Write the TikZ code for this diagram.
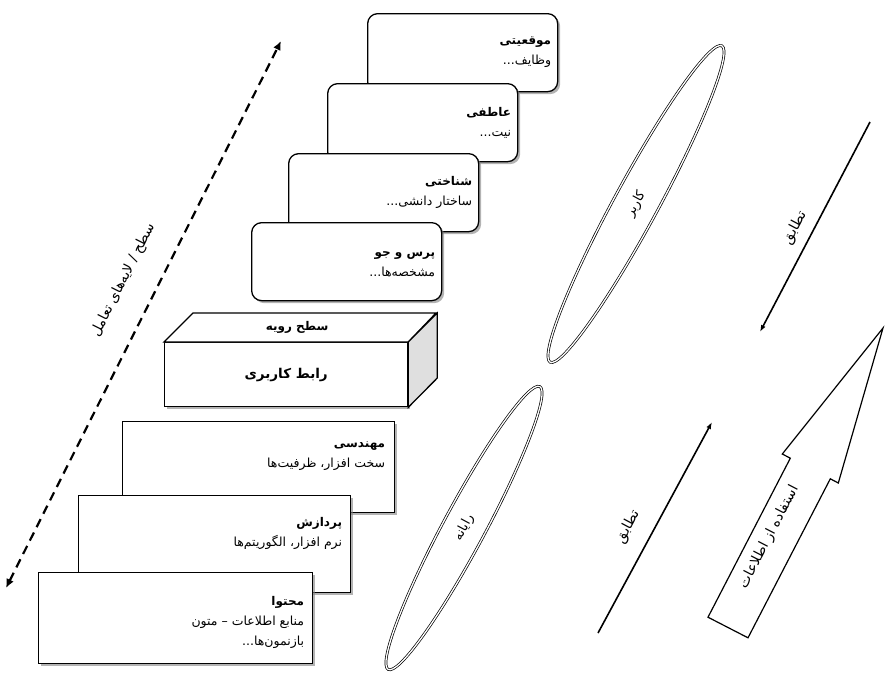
\documentclass[tikz,border=0pt]{standalone}
\usepackage{fontspec}
\usepackage{tikz}
\usetikzlibrary{arrows.meta,shapes.geometric,shadows}
\TeXXeTstate=1
\newfontfamily\fa[Script=Arabic]{DejaVu Sans}
\newcommand{\rtl}[1]{\beginR #1\endR}
\newcommand{\ttl}[1]{\textbf{\fontsize{12}{20}\selectfont\rtl{#1}}}

\begin{document}
\begin{tikzpicture}[x=1pt,y=-1pt,
	every node/.style={font=\fa\fontsize{12.5}{20}\selectfont},
	shadowed/.style={drop shadow={shadow xshift=2.5pt,shadow yshift=-2.5pt,opacity=.6}},
	roundbox/.style={draw,line width=1.3pt,rounded corners=10pt,fill=white,shadowed,
		minimum width=190pt,minimum height=78pt,anchor=north west},
	flatbox/.style={draw,line width=1.3pt,fill=white,shadowed,minimum width=272pt,anchor=north west},
	boxtext/.style={anchor=east,align=right,inner sep=0pt},
	ring/.style={ellipse,draw,double,double distance=1.3pt,line width=.7pt,inner sep=0pt,
		font=\fa\fontsize{13}{15}\selectfont},
	slanted/.style={font=\fa\fontsize{14}{16}\selectfont},
	match/.style={line width=1.6pt,-{Latex[length=7pt,width=5pt]}},
]
		\useasboundingbox (0,0) rectangle (885,675);
		% upper boxes
		\node[roundbox] (mowq) at (367,13) {};
		\node[boxtext] (mowq-t) at ([xshift=-7pt]mowq.east) {\ttl{موقعیتی}\\\rtl{وظایف...}};
		\node[roundbox] (atef) at (327,83) {};
		\node[boxtext] (atef-t) at ([xshift=-7pt]atef.east) {\ttl{عاطفی}\\\rtl{نیت...}};
		\node[roundbox] (shenakht) at (288,153) {};
		\node[boxtext] (shenakht-t) at ([xshift=-7pt]shenakht.east) {\ttl{شناختی}\\\rtl{ساختار دانشی...}};
		\node[roundbox] (porsesh) at (251,222) {};
		\node[boxtext] (porsesh-t) at ([xshift=-7pt,yshift=-3pt]porsesh.east) {\ttl{پرس و جو}\\\rtl{مشخصه‌ها...}};
		% surface level
		\node[draw,line width=1.3pt,fill=white,shadowed,minimum width=243pt,minimum height=64pt,
			anchor=north west,font=\fa\bfseries\fontsize{13.5}{15}\selectfont] (rabet) at (164,342) {\rtl{رابط کاربری}};
		\draw[line width=1.3pt,fill=white] (rabet.north west) -- ++(29,-29) -- ++(243,0) -- (rabet.north east) -- cycle;
		\draw[line width=1.3pt,fill=gray!25] (rabet.north east) -- ++(29,-29) -- ++(0,65) -- (rabet.south east) -- cycle;
		\node[font=\fa\bfseries\fontsize{12}{14}\selectfont] (rooye) at ([xshift=11pt,yshift=15pt]rabet.north) {\rtl{سطح رویه}};
		% lower boxes
		\node[flatbox,minimum height=91pt] (mohandesi) at (122,421) {};
		\node[boxtext] (mohandesi-t) at ([xshift=-10pt,yshift=11pt]mohandesi.east) {\ttl{مهندسی}\\\rtl{سخت افزار، ظرفیت‌ها}};
		\node[flatbox,minimum height=97pt] (pardazesh) at (78,495) {};
		\node[boxtext] (pardazesh-t) at ([xshift=-9pt,yshift=11pt]pardazesh.east) {\ttl{پردازش}\\\rtl{نرم افزار، الگوریتم‌ها}};
		\node[flatbox,minimum height=91pt,minimum width=274pt] (mohtava) at (38,572) {};
		\node[boxtext] (mohtava-t) at ([xshift=-9pt,yshift=-4pt]mohtava.east) {\ttl{محتوا}\\\rtl{منابع اطلاعات – متون}\\\rtl{بازنمون‌ها...}};
		% levels of interaction
		\coordinate (lowend) at (6,588);
		\coordinate (highend) at (281,41);
		\draw[line width=2.2pt,dash pattern=on 9pt off 6pt,
			{Latex[length=9pt,width=8pt]}-{Latex[length=9pt,width=8pt]}] (lowend) -- (highend)
			node[pos=.535,sloped,above=22pt,slanted] (tamol) {\rtl{سطح / لایه‌های تعامل}};
		% user and computer
		\node[ring,minimum width=360pt,minimum height=44pt,rotate=61.5] (karbar) at (636,204) {\rtl{کاربر}};
		\node[ring,minimum width=321pt,minimum height=42pt,rotate=61.8] (rayane) at (464,528) {\rtl{رایانه}};
		% matching
		\coordinate (m1) at (870,122);
		\coordinate (m2) at (760,332);
		\coordinate (m3) at (598,633);
		\coordinate (m4) at (712,422);
		\draw[match] (m1) -- (m2);
		\draw[match] (m3) -- (m4);
		\node[rotate=62,slanted] (tatbiq1) at (795,228) {\rtl{تطابق}};
		\node[rotate=62,slanted] (tatbiq2) at (628,527) {\rtl{تطابق}};
		% use of information
		\draw[line width=1.2pt,line join=miter] (708,617.2) -- (790.3,458.2) -- (782.3,454) -- (883,328)
			-- (838.3,483) -- (830.3,478.8) -- (748,637.8) -- cycle;
		\node[rotate=62.6,slanted] (estefade) at (769,537) {\rtl{استفاده از اطلاعات}};
\end{tikzpicture}
\end{document}
